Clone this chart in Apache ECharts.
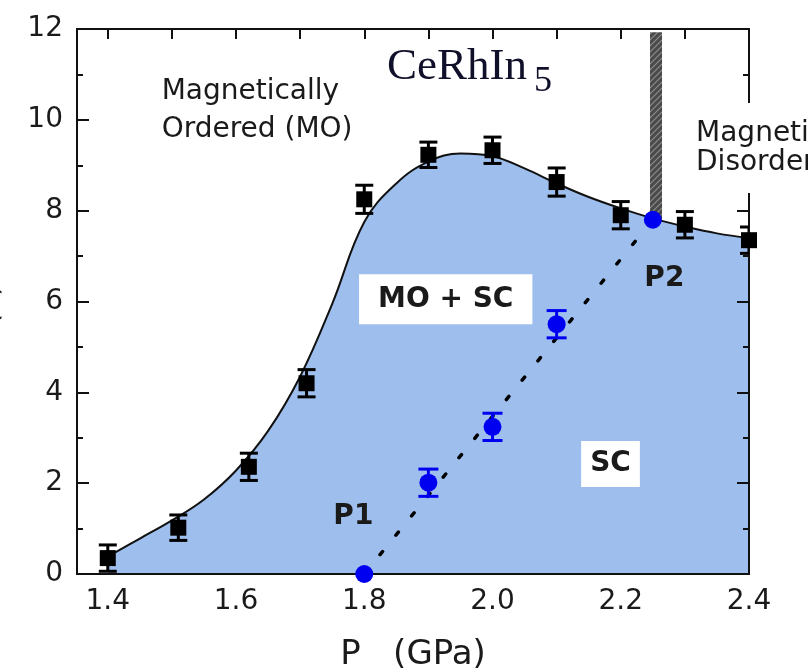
<!DOCTYPE html>
<html>
<head>
<meta charset="utf-8">
<script src="https://cdn.jsdelivr.net/npm/echarts@6/dist/echarts.min.js"></script>
<style>
  html, body { margin: 0; padding: 0; background: #fff; }
  #chart { width: 808px; height: 670px; }
</style>
</head>
<body>
<div id="chart"></div>
<script>
// Pressure axis ticks and labels
const xTickValues = [1.4, 1.6, 1.8, 2.0, 2.2, 2.4];
const xMinorTicks = [1.4, 1.5, 1.6, 1.7, 1.8, 1.9, 2.0, 2.1, 2.2, 2.3];
const yTickValues = [0, 2, 4, 6, 8, 10, 12];

// Magnetic ordering temperature T_N (black squares) with error bars
const orderP = [1.40, 1.51, 1.62, 1.71, 1.80, 1.90, 2.00, 2.10, 2.20, 2.30, 2.40];
const orderT = [0.35, 1.02, 2.36, 4.20, 8.25, 9.23, 9.33, 8.63, 7.90, 7.69, 7.35];
const orderErr = [0.29, 0.28, 0.30, 0.30, 0.31, 0.28, 0.29, 0.31, 0.30, 0.29, 0.29];

// Phase boundary curve drawn through the T_N data
const boundaryP = [1.40, 1.45, 1.50, 1.55, 1.60, 1.65, 1.70, 1.75, 1.80, 1.85, 1.90, 1.95, 2.00, 2.05, 2.10, 2.15, 2.20, 2.25, 2.30, 2.35, 2.40];
const boundaryT = [0.38, 0.78, 1.18, 1.64, 2.28, 3.15, 4.35, 5.95, 7.75, 8.60, 9.08, 9.26, 9.20, 8.93, 8.60, 8.30, 8.05, 7.83, 7.65, 7.50, 7.40];

// MO/SC boundary points (blue circles)
const coexistP = [1.80, 1.90, 2.00, 2.10, 2.25];
const coexistT = [0.00, 2.01, 3.24, 5.50, 7.80];
const coexistErr = [0, 0.30, 0.30, 0.30, 0];

// Dotted guide from P1 to P2
const guideP = [1.80, 2.25];
const guideT = [0.00, 7.80];

// Vertical hatched boundary above P2
const hatchP = 2.255;
const hatchT = [7.80, 11.93];

// Region annotations
const noteText = ['Magnetically\nOrdered (MO)', 'MO + SC', 'SC', 'P1', 'P2', 'Magnetically\nDisordered'];
const noteP = [1.484, 1.927, 2.184, 1.783, 2.268, 2.3065];
const noteT = [10.2, 6.05, 2.42, 1.255, 6.5, 9.38];

const FONT = 'DejaVu Sans';
const INK = '#1a1a1a';

const chart = echarts.init(document.getElementById('chart'));

// Hatch texture for the vertical boundary
const hatch = document.createElement('canvas');
hatch.width = 6; hatch.height = 6;
(function () {
  const c = hatch.getContext('2d');
  c.fillStyle = '#4a4a4a';
  c.fillRect(0, 0, 6, 6);
  c.strokeStyle = '#8c8c8c';
  c.lineWidth = 1.2;
  c.beginPath();
  c.moveTo(0, 6); c.lineTo(6, 0);
  c.moveTo(-3, 3); c.lineTo(3, -3);
  c.moveTo(3, 9); c.lineTo(9, 3);
  c.stroke();
})();

function errorBarItem(capHalf, color) {
  return function (params, api) {
    const p = api.value(0), t = api.value(1), e = api.value(2);
    if (!e) return null;
    const top = api.coord([p, t + e]);
    const bot = api.coord([p, t - e]);
    const style = { stroke: color, lineWidth: 3 };
    return {
      type: 'group',
      children: [
        { type: 'line', shape: { x1: top[0], y1: top[1], x2: bot[0], y2: bot[1] }, style },
        { type: 'line', shape: { x1: top[0] - capHalf, y1: top[1], x2: top[0] + capHalf, y2: top[1] }, style },
        { type: 'line', shape: { x1: bot[0] - capHalf, y1: bot[1], x2: bot[0] + capHalf, y2: bot[1] }, style }
      ]
    };
  };
}

const noteStyles = [
  { fontSize: 28, fontWeight: 'normal', lineHeight: 38, align: 'left' },
  { fontSize: 28, fontWeight: 'bold', lineHeight: 30, backgroundColor: '#fff', padding: [10, 19] },
  { fontSize: 28, fontWeight: 'bold', lineHeight: 30, backgroundColor: '#fff', padding: [8, 9] },
  { fontSize: 28, fontWeight: 'bold', lineHeight: 30 },
  { fontSize: 28, fontWeight: 'bold', lineHeight: 30 },
  { fontSize: 28, fontWeight: 'normal', lineHeight: 29, align: 'left', backgroundColor: '#fff', padding: [16, 0, 16, 7] }
];

const noteData = noteText.map((txt, i) => ({
  value: [noteP[i], noteT[i]],
  label: Object.assign({
    show: true, position: 'inside', formatter: txt, color: INK,
    fontFamily: FONT, verticalAlign: 'middle', opacity: 1
  }, noteStyles[i])
}));

const option = {
  animation: false,
  backgroundColor: '#fff',
  grid: { left: 77, right: 59, top: 29, bottom: 96, containLabel: false, outerBoundsMode: 'none' },
  xAxis: [
    {
      type: 'value', min: 1.352, max: 2.4, position: 'bottom', z: 3,
      name: 'P   (GPa)', nameLocation: 'middle', nameGap: 64,
      nameTextStyle: { fontFamily: FONT, fontSize: 34, color: INK },
      axisLine: { show: true, onZero: false, lineStyle: { color: '#111', width: 2 } },
      axisTick: { show: false },
      splitLine: { show: false },
      axisLabel: {
        customValues: xTickValues, formatter: v => v.toFixed(1),
        fontFamily: FONT, fontSize: 28, color: INK, margin: 14
      }
    },
    {
      type: 'value', min: 1.352, max: 2.4, position: 'top', z: 3,
      axisLine: { show: true, onZero: false, lineStyle: { color: '#111', width: 2 } },
      axisTick: { show: true, inside: true, length: 10, customValues: xMinorTicks, lineStyle: { color: '#111', width: 2 } },
      axisLabel: { show: false },
      splitLine: { show: false }
    }
  ],
  yAxis: [
    {
      type: 'value', min: 0, max: 12, interval: 2, position: 'left', z: 3,
      axisLine: { show: true, onZero: false, lineStyle: { color: '#111', width: 2 } },
      axisTick: { show: true, inside: true, length: 12, lineStyle: { color: '#111', width: 2 } },
      minorTick: { show: true, splitNumber: 2, length: 6, lineStyle: { color: '#111', width: 2 } },
      axisLabel: {
        customValues: yTickValues, fontFamily: FONT, fontSize: 28, color: INK, margin: 14
      },
      splitLine: { show: false }
    },
    {
      type: 'value', min: 0, max: 12, interval: 2, position: 'right', z: 3,
      axisLine: { show: true, onZero: false, lineStyle: { color: '#111', width: 2 } },
      axisTick: { show: true, inside: true, length: 12, lineStyle: { color: '#111', width: 2 } },
      minorTick: { show: true, splitNumber: 2, length: 6, lineStyle: { color: '#111', width: 2 } },
      axisLabel: { show: false },
      splitLine: { show: false }
    }
  ],
  graphic: [
    {
      type: 'text', x: 5, y: 318, rotation: Math.PI / 2,
      style: { text: 'T (K)', font: '28px "DejaVu Sans"', fill: INK, align: 'center', verticalAlign: 'bottom' }
    },
    {
      type: 'text', left: 387, top: 34, z: 10,
      style: {
        text: '{a|CeRhIn}{b|5}',
        rich: {
          a: { fontFamily: 'Liberation Serif', fontSize: 45, fill: '#10102a', lineHeight: 48 },
          b: { fontFamily: 'Liberation Serif', fontSize: 36, fill: '#10102a', lineHeight: 48, padding: [30, 0, 0, 7] }
        }
      }
    }
  ],
  series: [
    {
      name: 'boundary', type: 'line', z: 1,
      data: boundaryP.map((p, i) => [p, boundaryT[i]]),
      smooth: 0.4, showSymbol: false, clip: true,
      lineStyle: { color: '#111', width: 2 },
      areaStyle: { color: '#9ebfed', opacity: 1 }
    },
    {
      name: 'guide', type: 'line', z: 2,
      data: guideP.map((p, i) => [p, guideT[i]]),
      showSymbol: false,
      lineStyle: { color: '#000', width: 3.5, type: [4, 21], cap: 'round' }
    },
    {
      name: 'hatch', type: 'custom', z: 2,
      data: [[hatchP, hatchT[0], hatchT[1]]],
      renderItem: function (params, api) {
        const lo = api.coord([api.value(0), api.value(1)]);
        const hi = api.coord([api.value(0), api.value(2)]);
        return {
          type: 'rect',
          shape: { x: lo[0] - 6, y: hi[1], width: 12, height: lo[1] - hi[1] },
          style: { fill: { image: hatch, repeat: 'repeat' } }
        };
      }
    },
    {
      name: 'orderErr', type: 'custom', z: 4, clip: true,
      data: orderP.map((p, i) => [p, orderT[i], orderErr[i]]),
      renderItem: errorBarItem(9, '#000')
    },
    {
      name: 'order', type: 'scatter', z: 5, clip: true,
      data: orderP.map((p, i) => [p, orderT[i]]),
      symbol: 'rect', symbolSize: 16,
      itemStyle: { color: '#000', opacity: 1 }
    },
    {
      name: 'coexistErr', type: 'custom', z: 4, clip: true,
      data: coexistP.map((p, i) => [p, coexistT[i], coexistErr[i]]),
      renderItem: errorBarItem(10, '#0000f0')
    },
    {
      name: 'coexist', type: 'scatter', z: 5, clip: true,
      data: coexistP.map((p, i) => [p, coexistT[i]]),
      symbol: 'circle', symbolSize: 18,
      itemStyle: { color: '#0000f0', opacity: 1 }
    },
    {
      name: 'notes', type: 'scatter', z: 6, clip: false,
      symbolSize: 0, silent: true,
      itemStyle: { opacity: 1 },
      data: noteData
    }
  ]
};

chart.setOption(option);
</script>
</body>
</html>
